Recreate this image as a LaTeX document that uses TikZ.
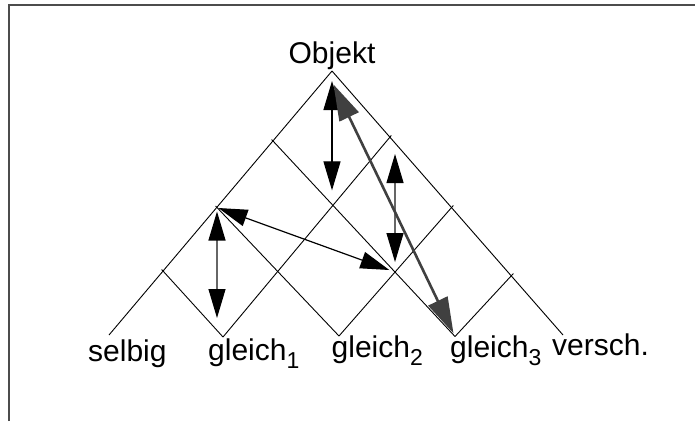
\documentclass[tikz,border=0pt]{standalone}
\usepackage{fontspec}
\setmainfont{Liberation Sans}
\usetikzlibrary{arrows.meta}
\newcommand{\idx}[1]{\raisebox{-8pt}{\fontsize{23}{24}\selectfont#1}}

\begin{document}
\begin{tikzpicture}[x=1pt,y=-1pt,
  gl/.style={line width=0.9pt},
  tw/.style={line width=1.2pt,
    {Triangle[length=29pt,width=17pt,color=black]}-{Triangle[length=29pt,width=17pt,color=black]}},
  lbl/.style={inner sep=0pt,anchor=base west,font=\fontsize{30}{36}\selectfont}]
\useasboundingbox (0,0) rectangle (695,421);
\path[draw,line width=2pt,black!70] (9,421) -- (9,5) -- (695,5);
% corner points of the diamonds
\coordinate (o) at (332,71);
\coordinate (l1) at (273,141);
\coordinate (l2) at (217,207.5);
\coordinate (l3) at (163,271);
\coordinate (l4) at (109,335);
\coordinate (r1) at (390,137);
\coordinate (r2) at (452,207);
\coordinate (r3) at (512,275);
\coordinate (r4) at (563,335);
\coordinate (b1) at (223,337);
\coordinate (b2) at (339,336);
\coordinate (b3) at (455,336.5);
\coordinate (m1) at (intersection of l1--b3 and r1--b1);
\coordinate (m2) at (intersection of l1--b3 and r2--b2);
% grid
\path[draw,gl] (o) -- (l4);
\path[draw,gl] (o) -- (r4);
\path[draw,gl,shorten <=-2pt] (l1) -- (b3);
\path[draw,gl,shorten <=-2pt] (l2) -- (b2);
\path[draw,gl,shorten <=-2pt] (l3) -- (b1);
\path[draw,gl,shorten <=-2pt] (r1) -- (b1);
\path[draw,gl,shorten <=-2pt] (r2) -- (b2);
\path[draw,gl,shorten <=-2pt] (r3) -- (b3);
% labels
\node[lbl,anchor=base] (obj) at (332,63) {Objekt};
\node[lbl] (s) at (88,361.5) {selbig};
\node[lbl] (g1) at (208,360) {gleich\idx{1}};
\node[lbl] (g2) at (331.5,357) {gleich\idx{2}};
\node[lbl] (g3) at (450,357) {gleich\idx{3}};
\node[lbl] (v) at (552,355) {versch.};
% arrows
\path[draw,tw,shorten <=10pt,shorten >=15pt] (o) -- (o |- m1);
\path[draw,tw,black!60,shorten <=17pt,shorten >=10pt] (m2 |- r1) -- (m2);
\path[draw,tw,shorten <=1.5pt,shorten >=6pt] (l2) -- (m2);
\path[draw,tw,black!60,shorten <=4pt,shorten >=19pt] (l2) -- (l2 |- b1);
\path[draw,line width=2.6pt,black!75,{Triangle[length=36pt,width=21pt]}-{Triangle[length=36pt,width=21pt]},
  shorten <=15pt,shorten >=3.5pt] ([xshift=-5pt]o) -- (b3);
\end{tikzpicture}
\end{document}
